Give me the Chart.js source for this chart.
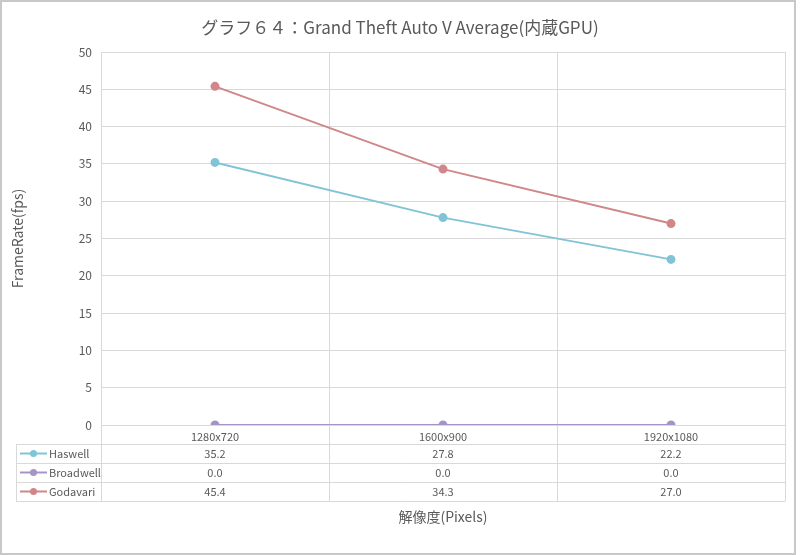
<!DOCTYPE html>
<html>
<head>
<meta charset="utf-8">
<script src="https://cdn.jsdelivr.net/npm/chart.js@4"></script>
<style>
html,body{margin:0;padding:0;background:#fff;}
#wrap{width:800px;height:555px;}
</style>
</head>
<body>
<div id="wrap"><canvas id="c" width="800" height="555"></canvas></div>
<script>
const categories = ['1280x720', '1600x900', '1920x1080'];
const haswell = [35.2, 27.8, 22.2];
const broadwell = [0.0, 0.0, 0.0];
const godavari = [45.4, 34.3, 27.0];
const seriesNames = ['Haswell', 'Broadwell', 'Godavari'];
const seriesColors = ['#80C4D6', '#A694C6', '#D08789'];
const chartTitle = 'グラフ６４：Grand Theft Auto V Average(内蔵GPU)';

const FONT = '"Noto Sans CJK JP", "Open Sans", sans-serif';
const TXT = '#595959';
const GRID = '#D9D9D9';

const tablePlugin = {
  id: 'tablePlugin',
  afterDraw(chart) {
    const ctx = chart.ctx;
    const xs = chart.scales.x;
    const ca = chart.chartArea;
    const rowH = 19;
    const tTop = ca.bottom;
    const rows = [tTop + rowH, tTop + 2*rowH, tTop + 3*rowH, tTop + 4*rowH];
    const tLeft = 16;
    const half = (xs.getPixelForValue(1) - xs.getPixelForValue(0)) / 2;
    ctx.save();
    // title
    ctx.fillStyle = TXT;
    ctx.font = '17px ' + FONT;
    ctx.textAlign = 'center';
    ctx.textBaseline = 'middle';
    ctx.fillText(chartTitle, 400, 28);

    ctx.strokeStyle = GRID;
    ctx.lineWidth = 1;
    ctx.beginPath();
    rows.forEach(y => { ctx.moveTo(tLeft, Math.round(y)+0.5); ctx.lineTo(ca.right, Math.round(y)+0.5); });
    ctx.moveTo(tLeft+0.5, rows[0]); ctx.lineTo(tLeft+0.5, rows[3]+0.5);
    ctx.moveTo(Math.round(ca.left)+0.5, tTop); ctx.lineTo(Math.round(ca.left)+0.5, rows[3]+0.5);
    for (let i = 0; i < categories.length; i++) {
      const xr = Math.round(xs.getPixelForValue(i) + half) + 0.5;
      ctx.moveTo(xr, tTop); ctx.lineTo(xr, rows[3]+0.5);
    }
    ctx.stroke();

    const data = [haswell, broadwell, godavari];
    ctx.font = '11px ' + FONT;
    ctx.textBaseline = 'middle';
    for (let s = 0; s < 3; s++) {
      const yc = rows[s] + rowH/2;
      ctx.strokeStyle = seriesColors[s];
      ctx.lineWidth = 2;
      ctx.beginPath(); ctx.moveTo(20, yc); ctx.lineTo(47, yc); ctx.stroke();
      ctx.fillStyle = seriesColors[s];
      ctx.beginPath(); ctx.arc(33.5, yc, 3.5, 0, Math.PI*2); ctx.fill();
      ctx.fillStyle = TXT;
      ctx.textAlign = 'left';
      ctx.fillText(seriesNames[s], 49, yc);
      ctx.textAlign = 'center';
      for (let i = 0; i < categories.length; i++) {
        ctx.fillText(data[s][i].toFixed(1), xs.getPixelForValue(i), yc);
      }
    }
    ctx.strokeStyle = '#C8C8C8';
    ctx.lineWidth = 2;
    ctx.strokeRect(1, 1, 794, 553);
    ctx.restore();
  }
};

function ds(label, data, color) {
  return {
    label, data,
    borderColor: color, backgroundColor: color,
    pointBackgroundColor: color, pointBorderColor: color,
    borderWidth: 2, pointRadius: 3.5, pointHoverRadius: 3.5,
    tension: 0
  };
}

new Chart(document.getElementById('c'), {
  type: 'line',
  data: {
    labels: categories,
    datasets: [
      ds(seriesNames[0], haswell, seriesColors[0]),
      ds(seriesNames[1], broadwell, seriesColors[1]),
      ds(seriesNames[2], godavari, seriesColors[2])
    ]
  },
  options: {
    responsive: false,
    animation: false,
    devicePixelRatio: 1,
    layout: { padding: { left: 0, right: 15, top: 52, bottom: 0 } },
    plugins: {
      legend: { display: false },
      tooltip: { enabled: false },
      title: { display: false }
    },
    scales: {
      x: {
        type: 'category',
        offset: true,
        grid: { offset: true, color: GRID, drawTicks: false },
        border: { display: false },
        ticks: { color: TXT, font: { family: FONT, size: 11 }, padding: 5, maxRotation: 0 },
        title: {
          display: true, text: '解像度(Pixels)', color: TXT,
          font: { family: FONT, size: 14 }, padding: { top: 0, bottom: 30 }
        },
        afterFit(scale) { scale.height = 130; }
      },
      y: {
        min: 0, max: 50,
        ticks: { stepSize: 5, color: TXT, font: { family: FONT, size: 12 }, padding: 9 },
        grid: { color: GRID, drawTicks: false },
        border: { display: false },
        title: {
          display: true, text: 'FrameRate(fps)', color: TXT,
          font: { family: FONT, size: 14 }, padding: { top: 9, bottom: 0 }
        },
        afterFit(scale) { scale.width = 101; }
      }
    }
  },
  plugins: [tablePlugin]
});
</script>
</body>
</html>
